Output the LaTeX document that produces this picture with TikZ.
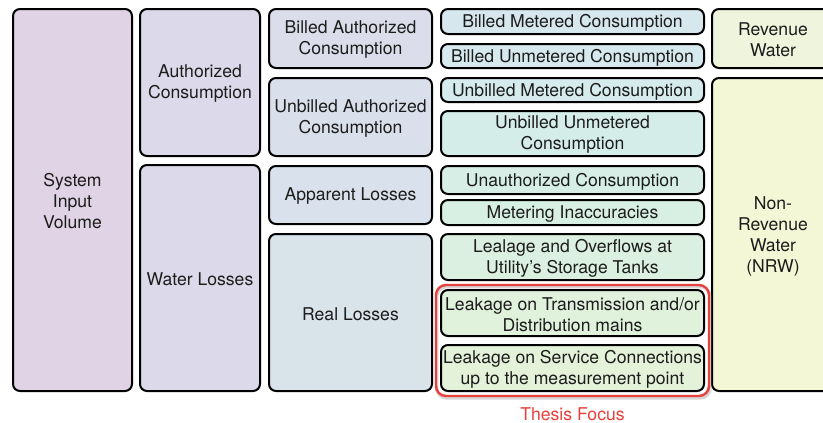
\documentclass[tikz,border=0pt]{standalone}
\usepackage{fontspec}
\setmainfont{TeX Gyre Heros}
\usetikzlibrary{fit}

% fills, column by column
\definecolor{cSIV}{HTML}{DFD3E5}
\definecolor{cAuth}{HTML}{DCDAEA}
\definecolor{cBAC}{HTML}{DBDDEB}
\definecolor{cUAC}{HTML}{DADFEC}
\definecolor{cAL}{HTML}{D9E2EC}
\definecolor{cRL}{HTML}{D8E3EA}
\definecolor{cBMC}{HTML}{D6E7EE}
\definecolor{cBUC}{HTML}{D6E9EE}
\definecolor{cUMC}{HTML}{D5EBEC}
\definecolor{cUUC}{HTML}{D5EDE9}
\definecolor{cUC}{HTML}{D6EEE6}
\definecolor{cMI}{HTML}{D8EFE3}
\definecolor{cLO}{HTML}{DBF0E0}
\definecolor{cLT}{HTML}{E0F1DC}
\definecolor{cLS}{HTML}{E4F2D9}
\definecolor{cRW}{HTML}{EEF5DC}
\definecolor{cNRW}{HTML}{F3F7D6}
\definecolor{focusred}{HTML}{E8403A}
\definecolor{inkgrey}{HTML}{1C1C1C}

\tikzset{
  cellbox/.style={draw=black, line width=2pt, rounded corners=7pt,
    inner sep=0pt, align=center, text=inkgrey,
    font=\fontsize{17.6}{21}\selectfont},
  focusbox/.style={draw=focusred, line width=2.4pt, rounded corners=10pt,
    inner sep=4pt},
  focusshade/.style={draw=black!45, line width=3pt, rounded corners=10pt,
    opacity=0.35},
  focuslabel/.style={text=focusred, inner sep=0pt,
    font=\fontsize{17.6}{21}\selectfont}
}

% \cell{name}{x1}{y1}{x2}{y2}{fill}{text}; the text sits 1.5pt below centre
\newcommand\cell[7]{%
  \node[cellbox, fill=#6, minimum width={#4-#2-2}, minimum height={#5-#3-2}]
    (#1) at ({(#2+#4)/2},{(#3+#5)/2}) {};
  \node[inner sep=0pt, align=center, text=inkgrey,
    font=\fontsize{17.6}{21}\selectfont]
    (#1-text) at ({(#2+#4)/2},{(#3+#5)/2+1.5}) {#7};}

\begin{document}
\begin{tikzpicture}[x=1pt, y=-1pt]
  \clip (0,0) rectangle (823,423);
  \fill[white] (0,0) rectangle (823,423);

  % column 1
  \cell{siv}{12}{8}{133}{392}{cSIV}{System\\Input\\Volume}

  % column 2
  \cell{auth}{139}{8}{261}{157}{cAuth}{Authorized\\Consumption}
  \cell{wl}{139}{164}{261}{392}{cAuth}{Water Losses}

  % column 3
  \cell{bac}{268}{8}{433}{69}{cBAC}{Billed Authorized\\Consumption}
  \cell{uac}{268}{77}{433}{157}{cUAC}{Unbilled Authorized\\Consumption}
  \cell{al}{268}{165}{433}{225}{cAL}{Apparent Losses}
  \cell{rl}{268}{233}{433}{392}{cRL}{Real Losses}

  % column 4
  \cell{bmc}{440}{8}{705}{35}{cBMC}{Billed Metered Consumption}
  \cell{buc}{440}{43}{705}{69}{cBUC}{Billed Unmetered Consumption}
  \cell{umc}{440}{77}{705}{103}{cUMC}{Unbilled Metered Consumption}
  \cell{uuc}{440}{110}{705}{157}{cUUC}{Unbilled Unmetered\\Consumption}
  \cell{uc}{440}{165}{705}{195}{cUC}{Unauthorized Consumption}
  \cell{mi}{440}{199}{705}{226}{cMI}{Metering Inaccuracies}
  \cell{lo}{440}{233}{705}{281}{cLO}{Lealage and Overflows at\\Utility’s Storage Tanks}
  \cell{lt}{440}{289}{705}{337}{cLT}{Leakage on Transmission and/or\\Distribution mains}
  \cell{ls}{440}{344}{705}{392}{cLS}{Leakage on Service Connections\\up to the measurement point}

  % column 5
  \cell{rw}{711}{8}{835}{69}{cRW}{Revenue\\Water}
  \cell{nrw}{711}{77}{835}{392}{cNRW}{Non-\\Revenue\\Water\\(NRW)}

  % highlighted group
  \node[fit=(lt)(ls), inner sep=4pt] (focusarea) {};
  \draw[focusshade] ([shift={(1,2)}]focusarea.south west) rectangle ([shift={(1,2)}]focusarea.north east);
  \node[focusbox, fit=(lt)(ls)] (focus) {};
  \node[focuslabel, anchor=center] (focustext) at ([yshift=-17]focus.south) {Thesis Focus};
\end{tikzpicture}
\end{document}
